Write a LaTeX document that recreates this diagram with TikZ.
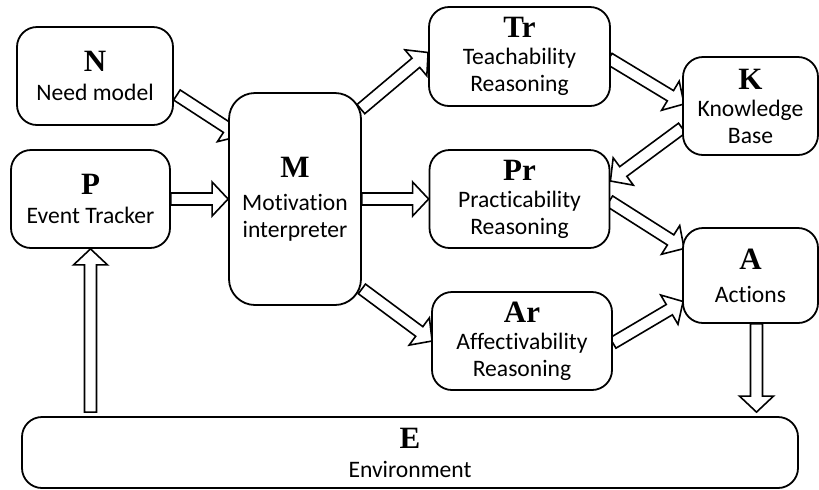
\documentclass[tikz,border=0pt]{standalone}
\usepackage{fontspec}
\setmainfont{Carlito}[Ligatures=NoCommon]
\newfontfamily\letterfont{Liberation Serif}
\usetikzlibrary{calc,backgrounds}

\newcommand{\lett}[1]{{\letterfont\bfseries\fontsize{15.5}{15}\selectfont #1}}

% hollow block arrow from #1 to #2
\newcommand{\fatarrow}[2]{%
  \coordinate (fa-t) at (#1);
  \coordinate (fa-h) at (#2);
  \coordinate (fa-n) at ($(fa-h)!8pt!(fa-t)$);
  \draw[arrowline] ($(fa-t)!3pt!90:(fa-h)$) -- ($(fa-n)!3pt!90:(fa-h)$)
    -- ($(fa-n)!8.5pt!90:(fa-h)$) -- (fa-h) -- ($(fa-n)!8.5pt!-90:(fa-h)$)
    -- ($(fa-n)!3pt!-90:(fa-h)$) -- ($(fa-t)!3pt!-90:(fa-h)$) -- cycle;}

\tikzset{
  box/.style={draw, line width=0.9pt, rounded corners=10pt, fill=white,
    align=center, inner sep=0pt, font=\fontsize{11.8}{13.5}\selectfont},
  arrowline/.style={line width=0.8pt, fill=white, line join=miter}
}

\begin{document}
\begin{tikzpicture}[x=0.5pt,y=-0.5pt]
\useasboundingbox (0,0) rectangle (819,489);

\node[box, minimum width=78pt, minimum height=49pt] (N) at (95,76) {\lett{N}\\[1pt]Need model};
\node[box, minimum width=79.5pt, minimum height=49pt] (P) at (90.5,199) {\lett{P}\\[1pt]Event Tracker};
\node[box, minimum width=66pt, minimum height=106pt, rounded corners=13pt] (M) at (295,199)
  {\lett{M}\\[3pt]Motivation\\interpreter};

\node[box, minimum width=90.5pt, minimum height=49.5pt] (Tr) at (519.5,56.5) {\lett{Tr}\\Teachability\\Reasoning};
\node[box, minimum width=90pt, minimum height=49pt] (Pr) at (519.5,199) {\lett{Pr}\\Practicability\\Reasoning};
\node[box, minimum width=90pt, minimum height=49pt] (Ar) at (522,341) {\lett{Ar}\\Affectivability\\Reasoning};

\node[box, minimum width=67.5pt, minimum height=49pt] (K) at (750.5,106) {\lett{K}\\Knowledge\\Base};
\node[box, minimum width=67.5pt, minimum height=47.5pt] (A) at (750.5,275.5) {\lett{A}\\[3pt]Actions};

\node[box, minimum width=388pt, minimum height=35.5pt] (E) at (410,452.5) {\lett{E}\\[1pt]Environment};

\begin{scope}[on background layer]
  \fatarrow{$(N.east)+(3,19)$}{$(M.north west)+(12,44)$}
  \fatarrow{P.east}{M.west}
  \fatarrow{$(M.north east)+(-1,17)$}{$(Tr.west)+(0,-4)$}
  \fatarrow{M.east}{Pr.west}
  \fatarrow{$(M.south east)+(0,-17)$}{$(Ar.west)+(1,0)$}
  \fatarrow{$(Tr.east)+(-2,2)$}{$(K.west)+(2,-2)$}
  \fatarrow{$(K.west)+(0,22)$}{$(Pr.east)+(0,-18)$}
  \fatarrow{$(Pr.east)+(-1,2)$}{$(A.west)+(2,-27)$}
  \fatarrow{$(Ar.east)+(0,2)$}{$(A.west)+(1,26)$}
  \coordinate (a1) at ($(A.south)+(6,0)$);
  \fatarrow{a1}{$(a1 |- E.north)+(0,-4)$}
  \fatarrow{$(P.south |- E.north)+(0,-4)$}{P.south}
\end{scope}
\end{tikzpicture}
\end{document}
